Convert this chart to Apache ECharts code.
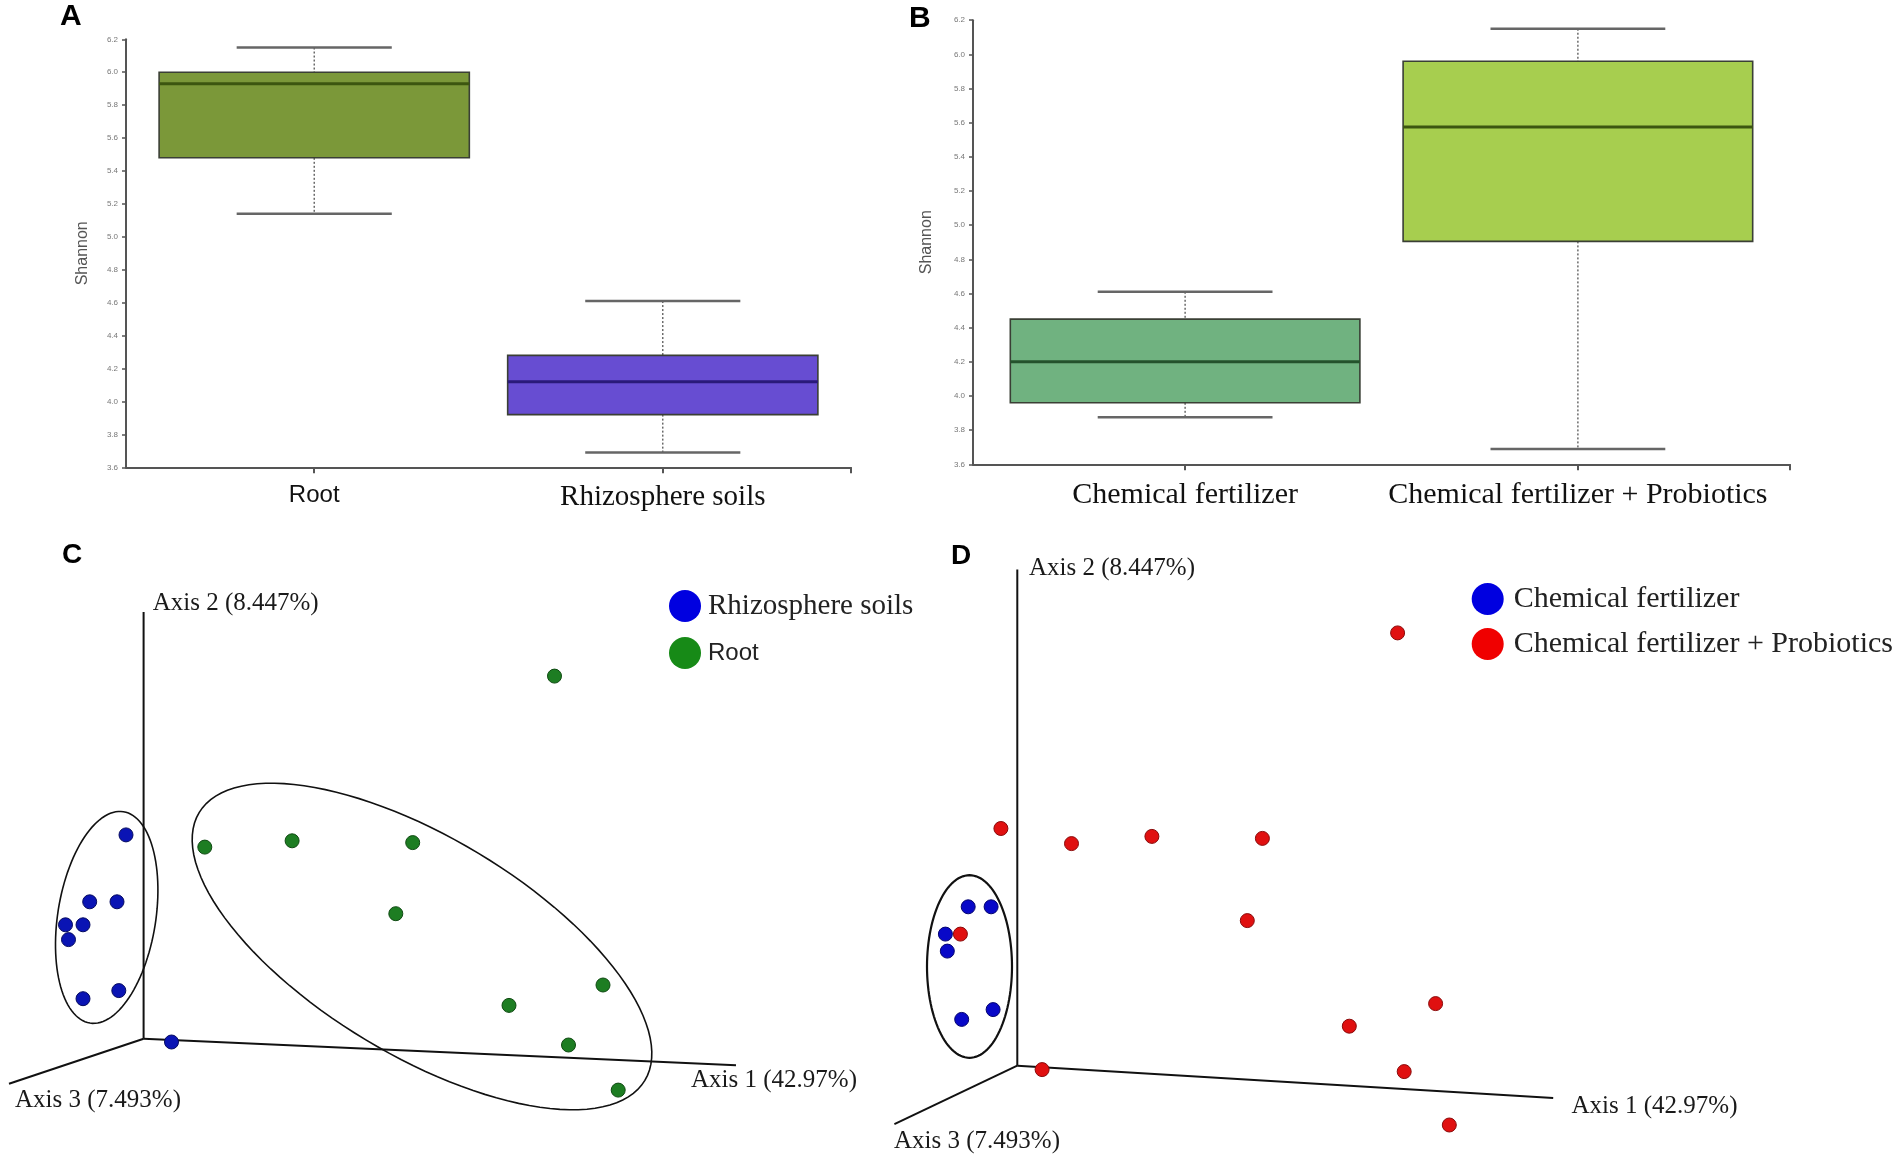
<!DOCTYPE html>
<html><head><meta charset="utf-8">
<script src="https://cdn.jsdelivr.net/npm/echarts@6/dist/echarts.min.js"></script>
<style>html,body{margin:0;padding:0;background:#fff}#c{width:1902px;height:1156px}</style>
</head><body><div id="c"></div>
<script>
// ---------- Panel A : Shannon, Root vs Rhizosphere soils ----------
const catsA = ['Root', 'Rhizosphere soils'];
// [min, Q1, median, Q3, max]
const boxA = [
  [5.14, 5.48, 5.93, 6.00, 6.15],
  [3.69, 3.92, 4.12, 4.28, 4.61]
];
const fillA = ['#7b9839', '#674dd2'];
const medA = ['#3c5610', '#2a1a7a'];

// ---------- Panel B : Shannon, fertilizer treatments ----------
const catsB = ['Chemical fertilizer', 'Chemical fertilizer + Probiotics'];
const boxB = [
  [3.875, 3.96, 4.20, 4.45, 4.61],
  [3.69, 4.905, 5.575, 5.96, 6.15]
];
const fillB = ['#70b280', '#a7ce4f'];
const medB = ['#24522c', '#3c5610'];

const shannonMin = 3.6, shannonMax = 6.2, shannonStep = 0.2;

// ---------- Panel C : PCoA (projected 2D coordinates) ----------
const axisNames = ['Axis 1 (42.97%)', 'Axis 2 (8.447%)', 'Axis 3 (7.493%)'];
const axisEndsC = [[59.24, -2.66], [0, 42.67], [-13.46, -4.51]];
const axisLabelPosC = [[54.74, -4.13], [0.91, 43.51], [-12.86, -6.13]];
const rhizoC = [[-1.76, 20.38], [-5.39, 13.69], [-2.66, 13.69], [-7.81, 11.39], [-6.06, 11.39],
                [-7.51, 9.91], [-6.06, 4.0], [-2.48, 4.81], [2.79, -0.33]];
const rootC = [[41.09, 36.26], [6.12, 19.16], [14.85, 19.79], [26.91, 19.61], [25.22, 12.5],
               [45.94, 5.37], [36.54, 3.33], [42.49, -0.63], [47.46, -5.14]];
// ellipse: [cx, cy, semi-major, semi-minor, angle deg]
const ellipsesC = [[-3.69, 12.13, 10.7, 4.9, 81], [27.84, 9.22, 26.0, 10.9, -31]];

// ---------- Panel D : PCoA ----------
const axisEndsD = [[53.59, -3.24], [0, 49.61], [-12.29, -5.85]];
const axisLabelPosD = [[55.42, -4.03], [1.17, 49.72], [-12.33, -7.53]];
const chemD = [[-4.91, 15.89], [-2.62, 15.89], [-7.19, 13.16], [-7.0, 11.46], [-5.56, 4.63], [-2.42, 5.61]];
const probD = [[38.03, 43.28], [-1.64, 23.72], [5.42, 22.21], [13.46, 22.93], [24.51, 22.73], [23.0, 14.51],
               [-5.69, 13.16], [41.83, 6.21], [33.2, 3.95], [2.48, -0.39], [38.69, -0.59], [43.2, -5.93]];
const ellipsesD = [[-4.78, 9.92, 9.13, 4.25, 90]];

const SERIF = '"Liberation Serif", "Times New Roman", serif';
const SANS = '"Liberation Sans", Arial, sans-serif';

function boxRender(fills, meds) {
  return function (params, api) {
    const x = api.value(0);
    const pMn = api.coord([x, api.value(1)]), pQ1 = api.coord([x, api.value(2)]),
          pMd = api.coord([x, api.value(3)]), pQ3 = api.coord([x, api.value(4)]),
          pMx = api.coord([x, api.value(5)]);
    const bw = api.size([0.89, 0])[0], cw = api.size([0.445, 0])[0];
    const cx = pMd[0], i = params.dataIndex;
    const dash = {stroke: '#555', lineWidth: 1.3, lineDash: [2, 2]};
    const cap = {stroke: '#666', lineWidth: 2.5};
    return {type: 'group', children: [
      {type: 'line', shape: {x1: cx, y1: pMx[1], x2: cx, y2: pQ3[1]}, style: dash},
      {type: 'line', shape: {x1: cx, y1: pQ1[1], x2: cx, y2: pMn[1]}, style: dash},
      {type: 'line', shape: {x1: cx - cw / 2, y1: pMx[1], x2: cx + cw / 2, y2: pMx[1]}, style: cap},
      {type: 'line', shape: {x1: cx - cw / 2, y1: pMn[1], x2: cx + cw / 2, y2: pMn[1]}, style: cap},
      {type: 'rect', shape: {x: cx - bw / 2, y: pQ3[1], width: bw, height: pQ1[1] - pQ3[1]},
       style: {fill: fills[i], stroke: '#3a3f35', lineWidth: 1.6}},
      {type: 'line', shape: {x1: cx - bw / 2, y1: pMd[1], x2: cx + bw / 2, y2: pMd[1]},
       style: {stroke: meds[i], lineWidth: 3}}
    ]};
  };
}

function axesRender(params, api) {
  const o = api.coord([0, 0]);
  const e = api.coord([api.value(0), api.value(1)]);
  return {type: 'line', shape: {x1: o[0], y1: o[1], x2: e[0], y2: e[1]}, style: {stroke: '#111', lineWidth: 2}};
}
function labelRender(params, api) {
  const p = api.coord([api.value(0), api.value(1)]);
  return {type: 'text', x: p[0], y: p[1], style: {text: axisNames[params.dataIndex], font: '25px ' + SERIF,
    fill: '#1a1a1a', align: 'left', verticalAlign: 'middle'}};
}
function ellipseRender(lw) {
  return function (params, api) {
    const cx = api.value(0), cy = api.value(1), a = api.value(2), b = api.value(3), th = api.value(4) * Math.PI / 180;
    const pts = [];
    for (let k = 0; k < 120; k++) {
      const t = k / 120 * 2 * Math.PI, ex = a * Math.cos(t), ey = b * Math.sin(t);
      pts.push(api.coord([cx + ex * Math.cos(th) - ey * Math.sin(th), cy + ex * Math.sin(th) + ey * Math.cos(th)]));
    }
    return {type: 'polygon', shape: {points: pts}, style: {fill: 'none', stroke: '#111', lineWidth: lw}};
  };
}

function boxXAxis(idx, cats, rich, fmt) {
  return {
    type: 'value', gridIndex: idx, min: 0.46, max: 2.54,
    splitLine: {show: false},
    axisLine: {show: true, lineStyle: {color: '#555', width: 2}},
    axisTick: {show: true, length: 6, customValues: [1, 2, 2.54], lineStyle: {color: '#555', width: 2}},
    axisLabel: {show: true, customValues: [1, 2], margin: 16, formatter: fmt, rich: rich, color: '#111'}
  };
}
function boxYAxis(idx, gap) {
  return {
    type: 'value', gridIndex: idx, min: shannonMin, max: shannonMax, interval: shannonStep,
    splitLine: {show: false},
    axisLine: {show: true, lineStyle: {color: '#555', width: 2}},
    axisTick: {show: true, length: 4, lineStyle: {color: '#555', width: 1.5}},
    axisLabel: {fontSize: 8, color: '#777', margin: 8, formatter: v => v.toFixed(1)},
    name: 'Shannon', nameLocation: 'middle', nameGap: gap, nameRotate: 90,
    nameTextStyle: {fontSize: 16, color: '#555', fontFamily: SANS}
  };
}
function hiddenAxis(type, idx, min, max) {
  return {type: 'value', gridIndex: idx, min: min, max: max, show: false, splitLine: {show: false}};
}

const chart = echarts.init(document.getElementById('c'));
chart.setOption({
  backgroundColor: '#fff',
  animation: false,
  title: [
    {text: 'A', left: 60, top: 2, padding: 0, textStyle: {fontSize: 30, fontWeight: 'bold', fontFamily: SANS, color: '#000'}},
    {text: 'B', left: 909, top: 4, padding: 0, textStyle: {fontSize: 30, fontWeight: 'bold', fontFamily: SANS, color: '#000'}},
    {text: 'C', left: 62, top: 541, padding: 0, textStyle: {fontSize: 28, fontWeight: 'bold', fontFamily: SANS, color: '#000'}},
    {text: 'D', left: 951, top: 542, padding: 0, textStyle: {fontSize: 28, fontWeight: 'bold', fontFamily: SANS, color: '#000'}}
  ],
  grid: [
    {left: 126, top: 39.3, width: 725, height: 428},
    {left: 973, top: 20.2, width: 817, height: 444.1},
    {left: 3.6, top: 558.7, width: 940, height: 570},
    {left: 877.3, top: 545.7, width: 1020, height: 610}
  ],
  xAxis: [
    boxXAxis(0, catsA, {s: {fontFamily: SANS, fontSize: 24, color: '#111'}, t: {fontFamily: SERIF, fontSize: 29, color: '#111'}},
      v => (Math.round(v) === 1 ? '{s|' : '{t|') + catsA[Math.round(v) - 1] + '}'),
    boxXAxis(1, catsB, {t: {fontFamily: SERIF, fontSize: 30, color: '#111'}},
      v => '{t|' + catsB[Math.round(v) - 1] + '}'),
    hiddenAxis('x', 2, -14, 80),
    hiddenAxis('x', 3, -14, 88)
  ],
  yAxis: [
    boxYAxis(0, 35),
    boxYAxis(1, 38),
    hiddenAxis('y', 2, -9, 48),
    hiddenAxis('y', 3, -9, 52)
  ],
  legend: [
    {orient: 'vertical', left: 664, top: 585, itemWidth: 32, itemHeight: 32, itemGap: 15, icon: 'circle',
     selectedMode: false, textStyle: {color: '#222', padding: [0, 0, 0, 2]},
     data: [
       {name: 'Rhizosphere soils', itemStyle: {color: '#0000e0', borderWidth: 0}, textStyle: {fontFamily: SERIF, fontSize: 29, color: '#222'}},
       {name: 'Root', itemStyle: {color: '#178a17', borderWidth: 0}, textStyle: {fontFamily: SANS, fontSize: 24, color: '#222'}}
     ]},
    {orient: 'vertical', left: 1466.7, top: 578, itemWidth: 32, itemHeight: 32, itemGap: 13, icon: 'circle',
     selectedMode: false, textStyle: {color: '#222', padding: [0, 0, 0, 5], fontFamily: SERIF, fontSize: 30},
     data: [
       {name: 'Chemical fertilizer', itemStyle: {color: '#0000e0', borderWidth: 0}},
       {name: 'Chemical fertilizer + Probiotics', itemStyle: {color: '#f00000', borderWidth: 0}}
     ]}
  ],
  series: [
    {type: 'custom', name: 'boxA', xAxisIndex: 0, yAxisIndex: 0, renderItem: boxRender(fillA, medA),
     encode: {x: 0, y: [1, 2, 3, 4, 5]}, data: boxA.map((v, i) => [i + 1].concat(v))},
    {type: 'custom', name: 'boxB', xAxisIndex: 1, yAxisIndex: 1, renderItem: boxRender(fillB, medB),
     encode: {x: 0, y: [1, 2, 3, 4, 5]}, data: boxB.map((v, i) => [i + 1].concat(v))},

    {type: 'custom', name: 'axesC', xAxisIndex: 2, yAxisIndex: 2, renderItem: axesRender, data: axisEndsC, z: 1, silent: true},
    {type: 'custom', name: 'axisLabC', xAxisIndex: 2, yAxisIndex: 2, renderItem: labelRender, data: axisLabelPosC, z: 1, silent: true},
    {type: 'custom', name: 'ellC', xAxisIndex: 2, yAxisIndex: 2, renderItem: ellipseRender(1.6), data: ellipsesC, z: 3, silent: true},
    {type: 'scatter', name: 'Rhizosphere soils', xAxisIndex: 2, yAxisIndex: 2, data: rhizoC, symbolSize: 14, z: 2,
     itemStyle: {color: '#0a14b4', borderColor: '#050a60', borderWidth: 1, opacity: 1}},
    {type: 'scatter', name: 'Root', xAxisIndex: 2, yAxisIndex: 2, data: rootC, symbolSize: 14, z: 2,
     itemStyle: {color: '#1d7d22', borderColor: '#0f4a12', borderWidth: 1, opacity: 1}},

    {type: 'custom', name: 'axesD', xAxisIndex: 3, yAxisIndex: 3, renderItem: axesRender, data: axisEndsD, z: 1, silent: true},
    {type: 'custom', name: 'axisLabD', xAxisIndex: 3, yAxisIndex: 3, renderItem: labelRender, data: axisLabelPosD, z: 1, silent: true},
    {type: 'custom', name: 'ellD', xAxisIndex: 3, yAxisIndex: 3, renderItem: ellipseRender(2.2), data: ellipsesD, z: 3, silent: true},
    {type: 'scatter', name: 'Chemical fertilizer', xAxisIndex: 3, yAxisIndex: 3, data: chemD, symbolSize: 14, z: 2,
     itemStyle: {color: '#0808c8', borderColor: '#040470', borderWidth: 1, opacity: 1}},
    {type: 'scatter', name: 'Chemical fertilizer + Probiotics', xAxisIndex: 3, yAxisIndex: 3, data: probD, symbolSize: 14, z: 2,
     itemStyle: {color: '#e01010', borderColor: '#8a0a0a', borderWidth: 1, opacity: 1}}
  ]
});
</script>
</body></html>
